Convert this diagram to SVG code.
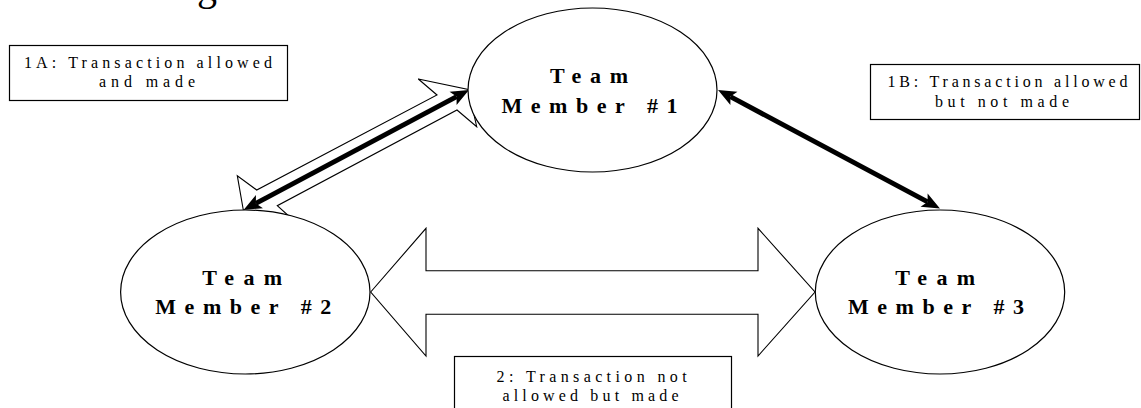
<svg xmlns="http://www.w3.org/2000/svg" width="1141" height="408" viewBox="0 0 1141 408">
<style>
.bg{fill:#fff}
.node{fill:#fff;stroke:#000;stroke-width:1.2}
.box{fill:#fff;stroke:#000;stroke-width:1.2}
.name{font-family:"Liberation Serif","Times New Roman",serif;font-weight:bold;font-size:22px;fill:#000}
.lbl{font-family:"Liberation Serif","Times New Roman",serif;font-size:16px;fill:#000}
.hollow{fill:#fff;stroke:#000;stroke-width:1.1;stroke-linejoin:miter}
.thick{fill:none;stroke:#000;stroke-width:5}
</style>
<defs>
<marker id="head" markerUnits="userSpaceOnUse" markerWidth="20" markerHeight="16" viewBox="0 -8 20 16" refX="4" refY="0" orient="auto-start-reverse" overflow="visible">
<path d="M0,-7.5 L18,0 L0,7.5 L4,0 Z" fill="#000"/>
</marker>
</defs>
<rect class="bg" x="0" y="0" width="1141" height="408"/>
<text class="lbl" x="197" y="-0.5" style="font-size:40px">g</text>

<g id="label-1A">
<rect class="box" x="9.5" y="45.5" width="278" height="55"/>
<text class="lbl" x="148" y="68" text-anchor="middle" textLength="248" lengthAdjust="spacing">1A: Transaction allowed</text>
<text class="lbl" x="147" y="87" text-anchor="middle" textLength="96" lengthAdjust="spacing">and made</text>
</g>
<g id="label-1B">
<rect class="box" x="870.5" y="64.5" width="269" height="55"/>
<text class="lbl" x="1007.5" y="87.3" text-anchor="middle" textLength="240" lengthAdjust="spacing">1B: Transaction allowed</text>
<text class="lbl" x="1002" y="106.7" text-anchor="middle" textLength="134" lengthAdjust="spacing">but not made</text>
</g>

<g id="connectors">
<polygon class="hollow" points="370.7,292 426,228.3 426,270.7 758,270.7 758,228.3 815,292 758,356 758,314.3 426,314.3 426,356"/>
<polygon class="hollow" points="243.3,210 237.3,175.7 256.7,190 437,95 418.3,79 468.3,89.5 476.7,126.7 457,110 277.3,205.7 296.5,223"/>
<line class="thick" x1="255.9" y1="203.4" x2="456.6" y2="96.6" marker-start="url(#head)" marker-end="url(#head)"/>
<line class="thick" x1="730.4" y1="96.6" x2="927.6" y2="201.9" marker-start="url(#head)" marker-end="url(#head)"/>
</g>

<g id="label-2">
<rect class="box" x="454.5" y="356.5" width="277" height="60"/>
<text class="lbl" x="591.6" y="382" text-anchor="middle" textLength="190" lengthAdjust="spacing">2: Transaction not</text>
<text class="lbl" x="590.5" y="401" text-anchor="middle" textLength="176" lengthAdjust="spacing">allowed but made</text>
</g>

<g id="member-1">
<ellipse class="node" cx="592.5" cy="90" rx="124.5" ry="82"/>
<text class="name" x="589" y="83" text-anchor="middle" textLength="78" lengthAdjust="spacing">Team</text>
<text class="name" x="589.5" y="112.7" text-anchor="middle" textLength="176" lengthAdjust="spacing">Member #1</text>
</g>
<g id="member-2">
<ellipse class="node" cx="245.3" cy="292" rx="124.7" ry="82"/>
<text class="name" x="242.2" y="285" text-anchor="middle" textLength="80" lengthAdjust="spacing">Team</text>
<text class="name" x="243.3" y="314.3" text-anchor="middle" textLength="176" lengthAdjust="spacing">Member #2</text>
</g>
<g id="member-3">
<ellipse class="node" cx="940" cy="292" rx="124.7" ry="82"/>
<text class="name" x="935.2" y="285" text-anchor="middle" textLength="80" lengthAdjust="spacing">Team</text>
<text class="name" x="936" y="314.3" text-anchor="middle" textLength="176" lengthAdjust="spacing">Member #3</text>
</g>
</svg>
